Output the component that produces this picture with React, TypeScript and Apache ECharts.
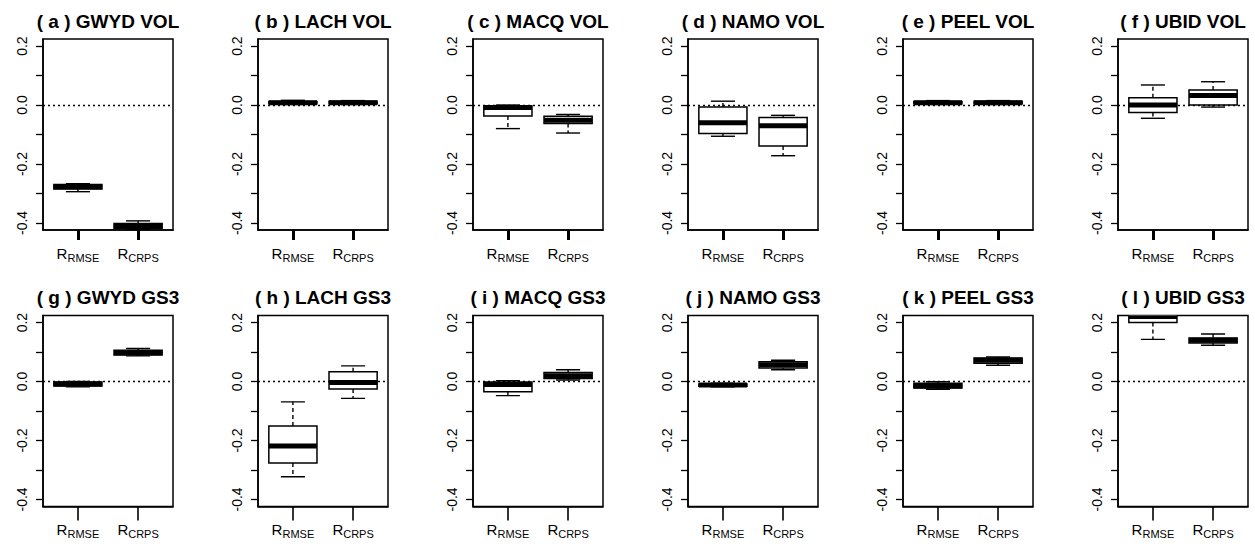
import React, { useEffect, useRef } from "react";
import * as echarts from "echarts";

// ---- data (box stats: [min, q1, median, q3, max]) ----
const panelTitles = [
  "( a ) GWYD VOL", "( b ) LACH VOL", "( c ) MACQ VOL", "( d ) NAMO VOL", "( e ) PEEL VOL", "( f ) UBID VOL",
  "( g ) GWYD GS3", "( h ) LACH GS3", "( i ) MACQ GS3", "( j ) NAMO GS3", "( k ) PEEL GS3", "( l ) UBID GS3",
];
const categories = ["RMSE", "CRPS"];
const xTickValues = [1, 2];
const yTickValues = [-0.4, -0.3, -0.2, -0.1, 0, 0.1, 0.2];
const yLabelValues = [-0.4, -0.2, 0, 0.2];
const Y_MIN = -0.424;
const Y_MAX = 0.224;

const gwydVol = [[-0.294, -0.285, -0.277, -0.27, -0.267], [-0.423, -0.418, -0.41, -0.402, -0.393]];
const lachVol = [[0.002, 0.004, 0.008, 0.012, 0.016], [0.002, 0.004, 0.008, 0.013, 0.015]];
const macqVol = [[-0.08, -0.037, -0.008, -0.003, 0.0], [-0.095, -0.063, -0.052, -0.038, -0.032]];
const namoVol = [[-0.106, -0.097, -0.06, -0.007, 0.013], [-0.172, -0.139, -0.07, -0.042, -0.035]];
const peelVol = [[0.002, 0.004, 0.008, 0.012, 0.015], [0.002, 0.004, 0.008, 0.013, 0.015]];
const ubidVol = [[-0.045, -0.025, 0.0, 0.025, 0.068], [-0.007, 0.0, 0.032, 0.051, 0.079]];
const gwydGs3 = [[-0.018, -0.015, -0.008, -0.002, 0.0], [0.087, 0.09, 0.098, 0.106, 0.112]];
const lachGs3 = [[-0.323, -0.276, -0.219, -0.151, -0.069], [-0.057, -0.025, -0.003, 0.033, 0.053]];
const macqGs3 = [[-0.048, -0.035, -0.01, -0.002, 0.003], [0.005, 0.01, 0.02, 0.031, 0.04]];
const namoGs3 = [[-0.018, -0.016, -0.012, -0.008, -0.006], [0.04, 0.046, 0.057, 0.067, 0.072]];
const peelGs3 = [[-0.026, -0.022, -0.015, -0.006, -0.001], [0.055, 0.062, 0.072, 0.08, 0.083]];
const ubidGs3 = [[0.143, 0.2, 0.221, 0.24, 0.27], [0.123, 0.131, 0.14, 0.148, 0.161]];

const panelData = [gwydVol, lachVol, macqVol, namoVol, peelVol, ubidVol, gwydGs3, lachGs3, macqGs3, namoGs3, peelGs3, ubidGs3];

const FONT = "Liberation Sans, Arial, Helvetica, sans-serif";

function renderBox(params: any, api: any) {
  const x = api.value(0);
  const vMin = api.value(1), q1 = api.value(2), med = api.value(3), q3 = api.value(4), vMax = api.value(5);
  const w = api.size([0.8, 0])[0];
  const cap = api.size([0.4, 0])[0];
  const pMin = api.coord([x, vMin]);
  const pQ1 = api.coord([x, q1]);
  const pMed = api.coord([x, med]);
  const pQ3 = api.coord([x, q3]);
  const pMax = api.coord([x, vMax]);
  const cx = pMed[0];
  const stroke = { stroke: "#000", lineWidth: 1.4, fill: null };
  return {
    type: "group",
    children: [
      { type: "line", shape: { x1: cx, y1: pQ3[1], x2: cx, y2: pMax[1] }, style: { ...stroke, lineDash: [4, 3] } },
      { type: "line", shape: { x1: cx, y1: pQ1[1], x2: cx, y2: pMin[1] }, style: { ...stroke, lineDash: [4, 3] } },
      { type: "line", shape: { x1: cx - cap / 2, y1: pMax[1], x2: cx + cap / 2, y2: pMax[1] }, style: stroke },
      { type: "line", shape: { x1: cx - cap / 2, y1: pMin[1], x2: cx + cap / 2, y2: pMin[1] }, style: stroke },
      { type: "rect", shape: { x: cx - w / 2, y: pQ3[1], width: w, height: pQ1[1] - pQ3[1] }, style: { fill: "#fff", stroke: "#000", lineWidth: 1.5 } },
      { type: "line", shape: { x1: cx - w / 2, y1: pMed[1], x2: cx + w / 2, y2: pMed[1] }, style: { stroke: "#000", lineWidth: 5 } },
    ],
  };
}

export default function App() {
  const ref = useRef<HTMLDivElement>(null);
  useEffect(() => {
    if (!ref.current) return;
    const chart = echarts.init(ref.current, null, { renderer: "svg" });
    const grids: any[] = [];
    const xAxes: any[] = [];
    const yAxes: any[] = [];
    const series: any[] = [];
    const graphics: any[] = [];
    const left0 = 43, colStep = 215, top0 = 39, rowStep = 276.5, gw = 130, gh = 191;
    panelData.forEach((pd, i) => {
      const r = Math.floor(i / 6), c = i % 6;
      const left = left0 + colStep * c;
      const top = top0 + rowStep * r;
      grids.push({ left, top, width: gw, height: gh, show: true, borderColor: "#000", borderWidth: 1.5, backgroundColor: "transparent", containLabel: false });
      xAxes.push({
        gridIndex: i, type: "value", min: 0.42, max: 2.58, position: "bottom",
        axisLine: { show: true, onZero: false, lineStyle: { color: "#000", width: 1.5 } },
        splitLine: { show: false },
        axisTick: { show: true, inside: false, length: r === 0 ? 10 : 14, customValues: xTickValues, lineStyle: { color: "#000", width: r === 0 ? 3 : 1.6 } },
        axisLabel: {
          show: true, customValues: xTickValues, margin: 13, color: "#000",
          formatter: (v: number) => `{r|R}{s|${categories[Math.round(v) - 1]}}`,
          rich: {
            r: { fontSize: 15, fontFamily: FONT, color: "#000" },
            s: { fontSize: 11, fontFamily: FONT, color: "#000", padding: [9, 0, 0, 0] },
          },
        },
      });
      yAxes.push({
        gridIndex: i, type: "value", min: Y_MIN, max: Y_MAX, position: "left",
        axisLine: { show: true, onZero: false, lineStyle: { color: "#000", width: 1.5 } },
        splitLine: { show: false },
        axisTick: { show: true, length: 7, customValues: yTickValues, lineStyle: { color: "#000", width: 1.3 } },
        axisLabel: {
          show: true, customValues: yLabelValues, rotate: 90, margin: 14, color: "#000",
          fontSize: 14, fontFamily: FONT,
          formatter: (v: number) => (Math.abs(v) < 1e-9 ? "0.0" : v.toFixed(1)),
        },
      });
      series.push({
        type: "custom", xAxisIndex: i, yAxisIndex: i, clip: true,
        renderItem: renderBox,
        encode: { x: 0, y: [1, 2, 3, 4, 5] },
        data: pd.map((s, k) => [k + 1, ...s]),
        markLine: {
          silent: true, symbol: "none", animation: false,
          label: { show: false },
          lineStyle: { color: "#000", type: [2, 3], width: 1.3 },
          data: [{ yAxis: 0 }],
        },
      });
      graphics.push({
        type: "text", x: left + gw / 2, y: top - 18,
        style: {
          text: panelTitles[i], font: `bold 19px ${FONT}`, fill: "#000",
          align: "center", verticalAlign: "middle", textAlign: "center", textVerticalAlign: "middle",
        },
      });
    });
    chart.setOption({
      animation: false,
      backgroundColor: "#fff",
      grid: grids,
      xAxis: xAxes,
      yAxis: yAxes,
      series,
      graphic: graphics,
    });
    return () => chart.dispose();
  }, []);
  return <div ref={ref} style={{ position: "absolute", left: 0, top: 0, width: 1255, height: 550 }} />;
}
